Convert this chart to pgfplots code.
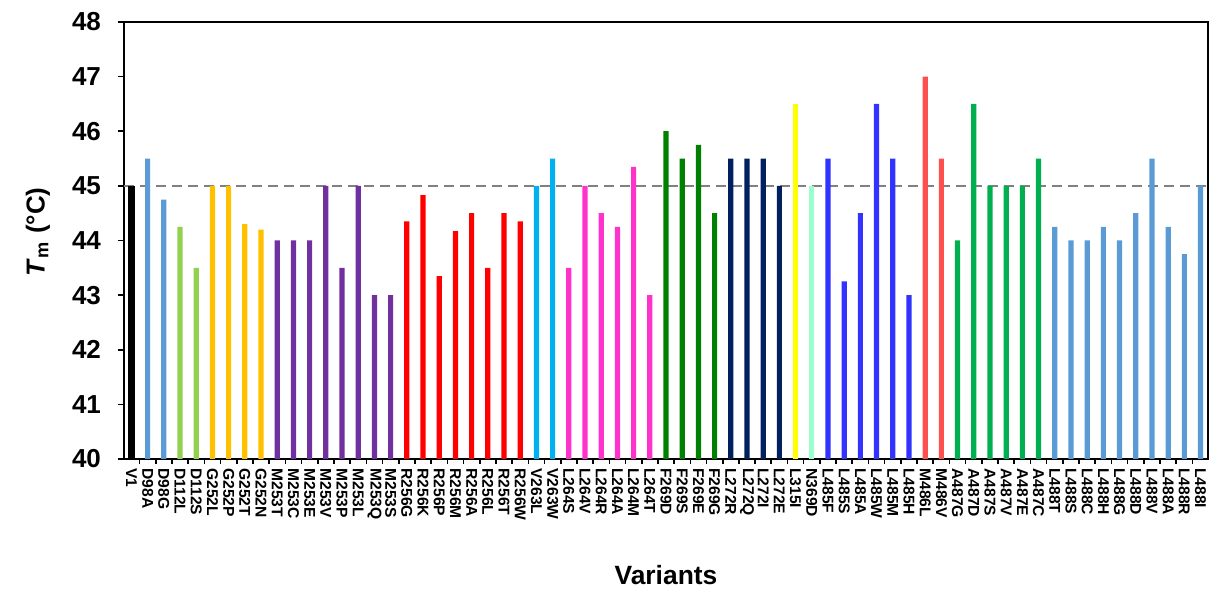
\documentclass[border=0pt]{standalone}
\usepackage{fontspec}
\setmainfont{Liberation Sans}
\usepackage{pgfplots}
\pgfplotsset{compat=1.18}

\definecolor{cV}{HTML}{000000}
\definecolor{cD98}{HTML}{5B9BD5}
\definecolor{cD112}{HTML}{92D050}
\definecolor{cG252}{HTML}{FFC000}
\definecolor{cM253}{HTML}{7030A0}
\definecolor{cR256}{HTML}{FF0000}
\definecolor{cV263}{HTML}{00B0F0}
\definecolor{cL264}{HTML}{FF33CC}
\definecolor{cF269}{HTML}{008000}
\definecolor{cL272}{HTML}{002060}
\definecolor{cL315}{HTML}{FFFF00}
\definecolor{cN369}{HTML}{99FFCC}
\definecolor{cL485}{HTML}{3333FF}
\definecolor{cM486}{HTML}{FF5050}
\definecolor{cA487}{HTML}{00B050}
\definecolor{cL488}{HTML}{5B9BD5}

\begin{document}
\begin{tikzpicture}
\begin{axis}[
  name=ax, at={(0,0)}, anchor=south west,
  scale only axis, width=542pt, height=218.5pt,
  xmin=-0.46, xmax=66.46, ymin=40, ymax=48,
  ytick={40,...,48},
  xtick={0,...,66},
  xticklabels={V1,D98A,D98G,D112L,D112S,G252L,G252P,G252T,G252N,
    M253T,M253C,M253E,M253V,M253P,M253L,M253Q,M253S,
    R256G,R256K,R256P,R256M,R256A,R256L,R256T,R256W,
    V263L,V263W,L264S,L264V,L264R,L264A,L264M,L264T,
    F269D,F269S,F269E,F269G,L272R,L272Q,L272I,L272E,
    L315I,N369D,L485F,L485S,L485A,L485W,L485M,L485H,
    M486L,M486V,A487G,A487D,A487S,A487V,A487E,A487C,
    L488T,L488S,L488C,L488H,L488G,L488D,L488V,L488A,L488R,L488I},
  minor xtick={0.5,1.5,...,65.5},
  x tick label style={rotate=-90, anchor=west, inner sep=1.5pt,
    font=\fontsize{7.8}{8}\selectfont\bfseries},
  y tick label style={font=\fontsize{13}{14}\selectfont\bfseries, xshift=-5pt},
  /pgf/number format/assume math mode=true,
  tick align=outside, xtick pos=bottom, ytick pos=left,
  major x tick style={draw=none},
  major tick length=3pt, minor tick length=2.5pt,
  tick style={black, line width=0.8pt},
  axis line style={line width=1pt},
  xlabel={Variants},
  xlabel style={font=\fontsize{13.2}{14}\selectfont\bfseries,
    at={(axis description cs:0.5,0)}, anchor=center, yshift=-58pt},
  ylabel={\textit{T}\textsubscript{m} (°C)},
  ylabel style={font=\fontsize{13}{14}\selectfont\bfseries,
    at={(axis description cs:0,0.52)}, anchor=center, yshift=43pt},
  every axis plot/.append style={ybar, bar width=2.6pt, bar shift=0pt, draw=none},
]
% reference line
\addplot[sharp plot, draw=gray, line width=1pt, dash pattern=on 5pt off 3pt, fill=none]
  coordinates {(-0.46,45) (66.46,45)};

\addplot[fill=cV, bar width=3.2pt] coordinates {(0,45.0)};
\addplot[fill=cD98] coordinates {(1,45.5) (2,44.75)};
\addplot[fill=cD112] coordinates {(3,44.25) (4,43.5)};
\addplot[fill=cG252] coordinates {(5,45.0) (6,45.0) (7,44.3) (8,44.2)};
\addplot[fill=cM253] coordinates {(9,44.0) (10,44.0) (11,44.0) (12,45.0)
  (13,43.5) (14,45.0) (15,43.0) (16,43.0)};
\addplot[fill=cR256] coordinates {(17,44.35) (18,44.83) (19,43.35) (20,44.17)
  (21,44.5) (22,43.5) (23,44.5) (24,44.35)};
\addplot[fill=cV263] coordinates {(25,45.0) (26,45.5)};
\addplot[fill=cL264] coordinates {(27,43.5) (28,45.0) (29,44.5) (30,44.25)
  (31,45.35) (32,43.0)};
\addplot[fill=cF269] coordinates {(33,46.0) (34,45.5) (35,45.75) (36,44.5)};
\addplot[fill=cL272] coordinates {(37,45.5) (38,45.5) (39,45.5) (40,45.0)};
\addplot[fill=cL315] coordinates {(41,46.5)};
\addplot[fill=cN369] coordinates {(42,45.0)};
\addplot[fill=cL485] coordinates {(43,45.5) (44,43.25) (45,44.5) (46,46.5)
  (47,45.5) (48,43.0)};
\addplot[fill=cM486] coordinates {(49,47.0) (50,45.5)};
\addplot[fill=cA487] coordinates {(51,44.0) (52,46.5) (53,45.0) (54,45.0)
  (55,45.0) (56,45.5)};
\addplot[fill=cL488] coordinates {(57,44.25) (58,44.0) (59,44.0) (60,44.25)
  (61,44.0) (62,44.5) (63,45.5) (64,44.25) (65,43.75) (66,45.0)};
\end{axis}
\pgfresetboundingbox
\path[use as bounding box] (-62pt,-66.5pt) rectangle (544.5pt,229.5pt);
\end{tikzpicture}
\end{document}
